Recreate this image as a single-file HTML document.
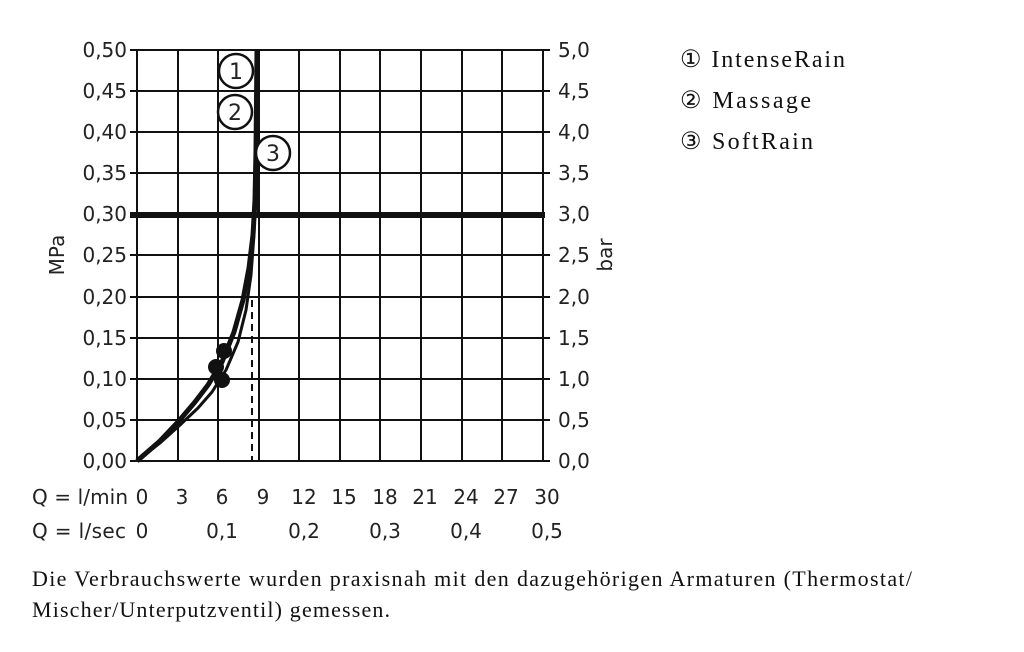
<!DOCTYPE html>
<html><head><meta charset="utf-8"><style>
body{margin:0;background:#fff;width:1024px;height:652px;overflow:hidden}
svg{display:block}
.t{font-family:"DejaVu Sans","Liberation Sans",sans-serif;font-size:20px;fill:#222}
.s{font-family:"Liberation Serif",serif;font-size:22px;fill:#111}
</style></head><body>
<svg width="1024" height="652" viewBox="0 0 1024 652">
<g stroke="#111" stroke-width="2" fill="none">
<path d="M137,50V461 M178,50V461 M218,50V461 M259,50V461 M299,50V461 M340,50V461 M380,50V461 M421,50V461 M462,50V461 M502,50V461 M543,50V461"/>
<path d="M130,50H550 M130,91H550 M130,132H550 M130,173H550 M130,255H550 M130,297H550 M130,338H550 M130,379H550 M130,420H550 M130,461H550"/>
</g>
<path d="M130,215H545" stroke="#111" stroke-width="6"/>
<path d="M252,300V461" stroke="#111" stroke-width="2" stroke-dasharray="7,5"/>
<path d="M137,461 L160,441 L178,422 L195,402 L208,385 L222,362 L234,332 L243,300 L249,268 L253,235 L255,200 L256,150 L257,50" stroke="#111" stroke-width="5" fill="none" stroke-linejoin="round"/>
<path d="M137,461 L160,443 L180,425 L198,408 L212,392 L226,370 L238,342 L246,310 L251,275 L254,235 L255,200" stroke="#111" stroke-width="3" fill="none" stroke-linejoin="round"/>
<path d="M258,50 L258,215" stroke="#111" stroke-width="2"/>
<circle cx="224" cy="351" r="8" fill="#111"/>
<circle cx="216" cy="367" r="8" fill="#111"/>
<circle cx="222" cy="380" r="8" fill="#111"/>
<g fill="#fff" stroke="#111" stroke-width="2.5">
<circle cx="236" cy="71" r="17"/><circle cx="235" cy="112" r="17"/><circle cx="273" cy="153" r="17"/>
</g>
<g class="t" text-anchor="middle" style="font-size:22px">
<text x="236" y="79">1</text><text x="235" y="120">2</text><text x="273" y="161">3</text>
</g>
<g class="t" text-anchor="end">
<text x="127" y="57">0,50</text><text x="127" y="98">0,45</text><text x="127" y="139">0,40</text><text x="127" y="180">0,35</text><text x="127" y="221">0,30</text><text x="127" y="262">0,25</text><text x="127" y="304">0,20</text><text x="127" y="345">0,15</text><text x="127" y="386">0,10</text><text x="127" y="427">0,05</text><text x="127" y="468">0,00</text>
</g>
<g class="t">
<text x="558" y="57">5,0</text><text x="558" y="98">4,5</text><text x="558" y="139">4,0</text><text x="558" y="180">3,5</text><text x="558" y="221">3,0</text><text x="558" y="262">2,5</text><text x="558" y="304">2,0</text><text x="558" y="345">1,5</text><text x="558" y="386">1,0</text><text x="558" y="427">0,5</text><text x="558" y="468">0,0</text>
</g>
<text class="t" transform="translate(64,255) rotate(-90)" text-anchor="middle">MPa</text>
<text class="t" transform="translate(612,255) rotate(-90)" text-anchor="middle">bar</text>
<g class="t" text-anchor="middle">
<text x="142" y="504">0</text><text x="182" y="504">3</text><text x="222" y="504">6</text><text x="263" y="504">9</text><text x="304" y="504">12</text><text x="344" y="504">15</text><text x="385" y="504">18</text><text x="425" y="504">21</text><text x="466" y="504">24</text><text x="506" y="504">27</text><text x="547" y="504">30</text>
<text x="142" y="538">0</text><text x="222" y="538">0,1</text><text x="304" y="538">0,2</text><text x="385" y="538">0,3</text><text x="466" y="538">0,4</text><text x="547" y="538">0,5</text>
</g>
<text class="t" x="32" y="504" textLength="96">Q = l/min</text>
<text class="t" x="32" y="538" textLength="94">Q = l/sec</text>
<g class="s">
<text x="680" y="67" style="font-size:24px" textLength="165">① IntenseRain</text>
<text x="680" y="108" style="font-size:24px" textLength="131">② Massage</text>
<text x="680" y="149" style="font-size:24px" textLength="133">③ SoftRain</text>
<text x="32" y="586" textLength="880">Die Verbrauchswerte wurden praxisnah mit den dazugehörigen Armaturen (Thermostat/</text>
<text x="32" y="617" textLength="358">Mischer/Unterputzventil) gemessen.</text>
</g>
</svg>
</body></html>
